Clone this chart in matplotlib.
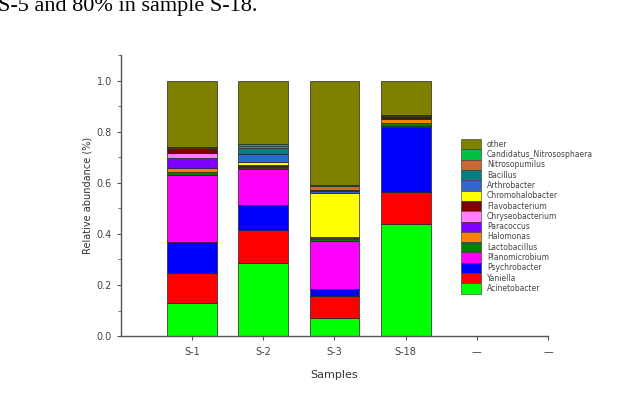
import matplotlib
matplotlib.use("Agg")
import matplotlib.pyplot as plt
from matplotlib.patches import Patch
from matplotlib.ticker import MultipleLocator

# sample names on the x axis (last two slots are empty)
samples = ["S-1", "S-2", "S-3", "S-18", "—", "—"]

# genera, stacked bottom to top
genera = [
    "Acinetobacter", "Yaniella", "Psychrobacter", "Planomicrobium",
    "Lactobacillus", "Halomonas", "Paracoccus", "Chryseobacterium",
    "Flavobacterium", "Chromohalobacter", "Arthrobacter", "Bacillus",
    "Nitrosopumilus", "Candidatus_Nitrososphaera", "other",
]

colors = [
    "#00FF00", "#FF0000", "#0000FF", "#FF00FF",
    "#008000", "#FF8000", "#8000FF", "#FF80FF",
    "#800000", "#FFFF00", "#3366CC", "#008080",
    "#CC6633", "#00C040", "#808000",
]

# relative abundance per sample, same order as genera
s1 = [0.128, 0.120, 0.122, 0.261, 0.013, 0.016, 0.037, 0.019,
      0.017, 0.002, 0.002, 0.002, 0.002, 0.002, 0.257]
s2 = [0.287, 0.129, 0.098, 0.140, 0.006, 0.003, 0.003, 0.002,
      0.003, 0.013, 0.030, 0.025, 0.005, 0.008, 0.248]
s3 = [0.072, 0.085, 0.026, 0.191, 0.008, 0.002, 0.002, 0.001,
      0.002, 0.171, 0.009, 0.004, 0.016, 0.003, 0.408]
s18 = [0.439, 0.127, 0.252, 0.004, 0.012, 0.016, 0.003, 0.002,
       0.002, 0.002, 0.003, 0.002, 0.002, 0.001, 0.133]

data = [s1, s2, s3, s18]

fig = plt.figure(figsize=(6.21, 3.94), dpi=100)
ax = fig.add_axes([0.1948, 0.1472, 0.6876, 0.712])

pos = [1, 2, 3, 4]
bottoms = [0.0] * len(pos)
for i, name in enumerate(genera):
    vals = [d[i] for d in data]
    ax.bar(pos, vals, width=0.7, bottom=bottoms, color=colors[i],
           edgecolor="#222222", linewidth=0.5)
    bottoms = [b + v for b, v in zip(bottoms, vals)]

ax.set_xlim(0, 6)
ax.set_ylim(0, 1.1)
ax.set_xticks(range(1, 7))
ax.set_xticklabels(samples)
ax.set_yticks([0.0, 0.2, 0.4, 0.6, 0.8, 1.0])
ax.set_yticklabels(["0.0", "0.2", "0.4", "0.6", "0.8", "1.0"])
ax.yaxis.set_minor_locator(MultipleLocator(0.1))

for side in ("top", "right"):
    ax.spines[side].set_visible(False)
for side in ("left", "bottom"):
    ax.spines[side].set_color("#555555")
    ax.spines[side].set_linewidth(1.0)

ax.tick_params(axis="both", which="major", direction="out", length=3,
               width=0.8, color="#555555", labelsize=7, labelcolor="#444444")
ax.tick_params(axis="x", which="major", pad=5)
ax.tick_params(axis="y", which="minor", direction="out", length=2,
               width=0.6, color="#555555")

ax.set_xlabel("Samples", fontsize=8, color="#333333", labelpad=9)
ax.set_ylabel("Relative abundance (%)", fontsize=7, color="#333333", labelpad=3)

# legend: top entry is "other"
handles = [Patch(facecolor=c, edgecolor="#333333", linewidth=0.4) for c in colors]
leg = fig.legend(handles[::-1], genera[::-1], loc="upper left",
                 bbox_to_anchor=(461 / 621, 1 - 139 / 394), frameon=False,
                 fontsize=5.5, handlelength=2.6, handleheight=1.7,
                 labelspacing=0.0, handletextpad=0.8, borderaxespad=0,
                 borderpad=0)
for t in leg.get_texts():
    t.set_color("#444444")

# clipped line of body text above the chart
fig.text(-0.003, 0.972, "S-5 and 80% in sample S-18.", fontsize=16,
         family="Liberation Serif", ha="left", va="baseline", color="black")

fig.savefig("out.png", dpi=100, facecolor="white")
